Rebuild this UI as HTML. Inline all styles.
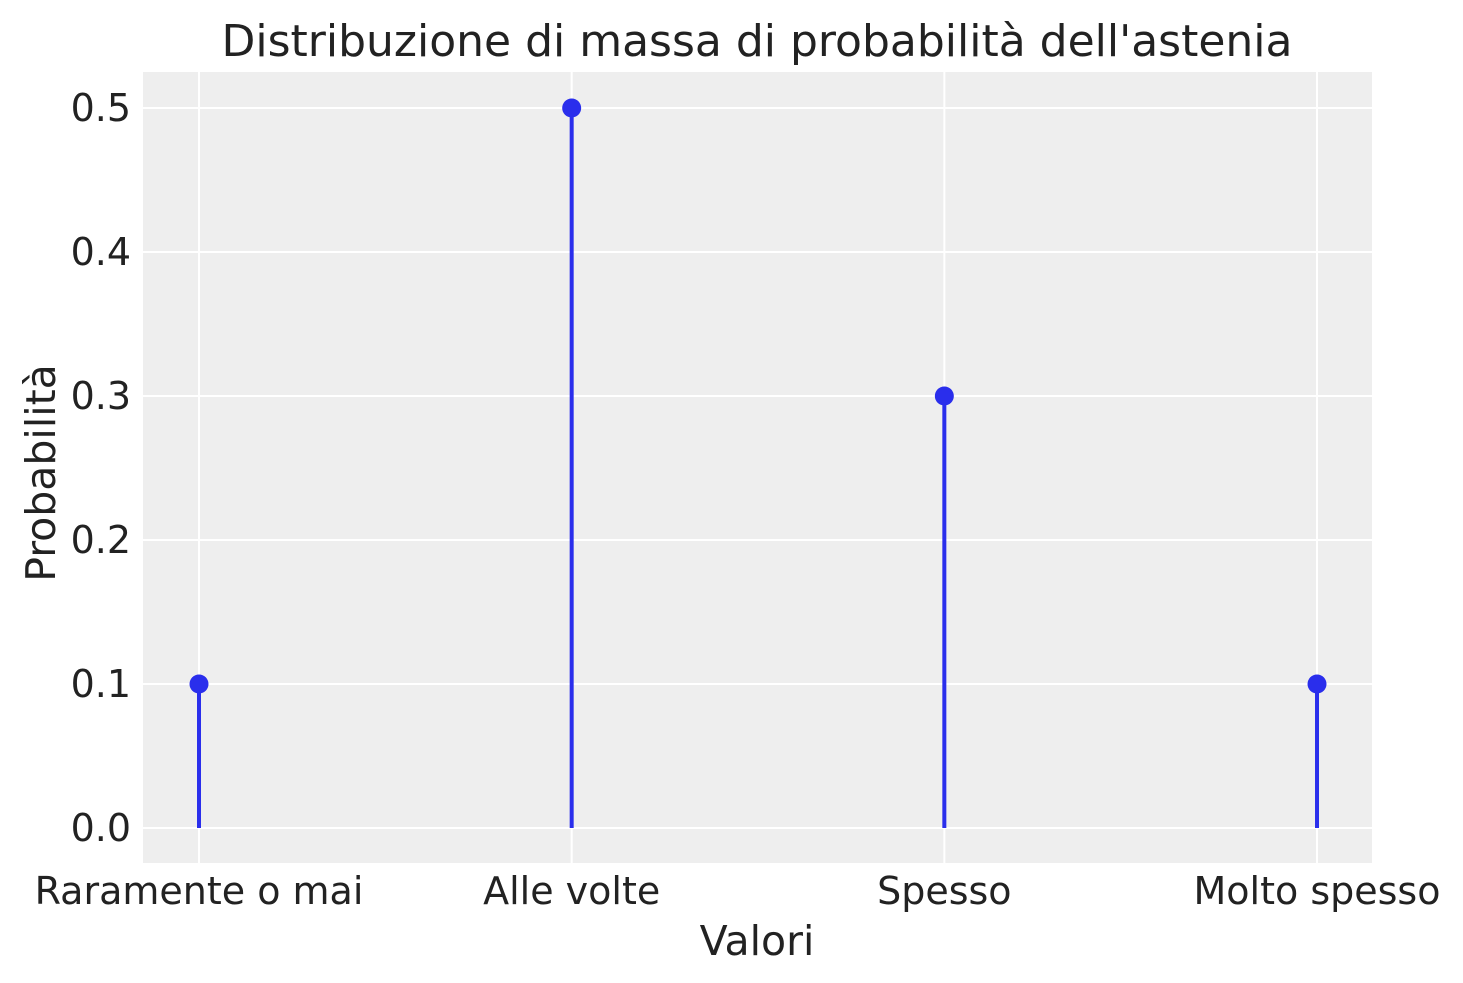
<!DOCTYPE html>
<html><head><meta charset="utf-8"><style>
html,body{margin:0;padding:0;background:#fff;}
svg{display:block;font-family:"DejaVu Sans","Liberation Sans",sans-serif;}
</style></head><body>
<svg id="chart" width="1463" height="983" viewBox="0 0 1463 983" xmlns="http://www.w3.org/2000/svg">
<rect x="143" y="72" width="1229" height="791" fill="#eeeeee"/>
<g id="grid"></g>
<g id="marks"></g>
<g id="ticks"></g>
<text x="757" y="56" font-size="44" text-anchor="middle" fill="#222">Distribuzione di massa di probabilità dell'astenia</text>
<text x="757" y="955" font-size="41" text-anchor="middle" fill="#222">Valori</text>
<text transform="translate(55,473) rotate(-90)" font-size="41" text-anchor="middle" fill="#222">Probabilità</text>
</svg>
<script>
const categories=["Raramente o mai","Alle volte","Spesso","Molto spesso"];
const probabilities=[0.1,0.5,0.3,0.1];
const yTicks=[0,0.1,0.2,0.3,0.4,0.5];
const yTickLabels=["0.0","0.1","0.2","0.3","0.4","0.5"];
const NS="http://www.w3.org/2000/svg";
function xPos(i){return 199+i*372.67;}
function yPos(v){return 828-v*1440;}
function mk(tag,attrs,parent){const e=document.createElementNS(NS,tag);for(const k in attrs)e.setAttribute(k,attrs[k]);parent.appendChild(e);return e;}
const grid=document.getElementById('grid'),marks=document.getElementById('marks'),ticks=document.getElementById('ticks');
yTicks.forEach((v,i)=>{
 const l=mk('line',{x1:143,x2:1372,y1:yPos(v),y2:yPos(v),stroke:'#fff','stroke-width':2},grid);
 
 
 const t=mk('text',{x:131,y:yPos(v)+13,'font-size':38,'text-anchor':'end',fill:'#222'},ticks);
 t.textContent=yTickLabels[i];
 
 
});
categories.forEach((c,i)=>{
 const l=mk('line',{x1:xPos(i),x2:xPos(i),y1:72,y2:863,stroke:'#fff','stroke-width':2},grid);
 
 
 const t=mk('text',{x:xPos(i),y:904,'font-size':38,'text-anchor':'middle',fill:'#222'},ticks);
 t.textContent=c;
 
 
});
probabilities.forEach((p,i)=>{
 const s=mk('line',{x1:xPos(i),x2:xPos(i),y1:yPos(0),y2:yPos(p),stroke:'#2a2eec','stroke-width':4},marks);
 
 
 const d=mk('circle',{cx:xPos(i),cy:yPos(p),r:9.5,fill:'#2a2eec'},marks);
 
 
});
</script>
</body></html>
